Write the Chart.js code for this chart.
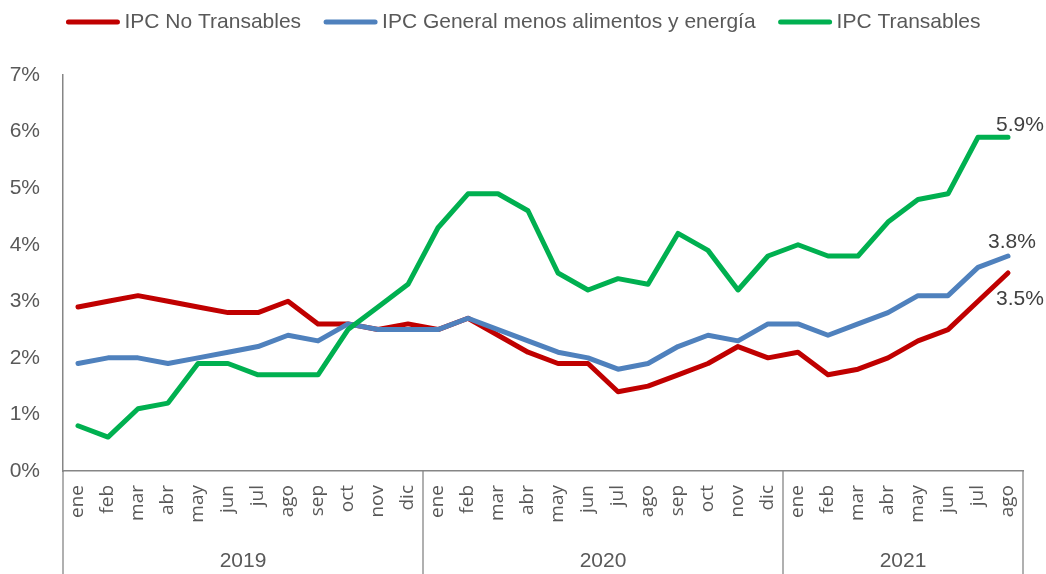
<!DOCTYPE html>
<html>
<head>
<meta charset="utf-8">
<script src="https://cdn.jsdelivr.net/npm/chart.js@4"></script>
<style>
  html, body { margin: 0; padding: 0; background: #fff; }
  #wrap { width: 1046px; height: 574px; }
</style>
</head>
<body>
<div id="wrap"><canvas id="myChart" width="1046" height="574"></canvas></div>
<script>
// months and years of the x axis
var meses = ['ene', 'feb', 'mar', 'abr', 'may', 'jun', 'jul', 'ago', 'sep', 'oct', 'nov', 'dic',
             'ene', 'feb', 'mar', 'abr', 'may', 'jun', 'jul', 'ago', 'sep', 'oct', 'nov', 'dic',
             'ene', 'feb', 'mar', 'abr', 'may', 'jun', 'jul', 'ago'];
var anios = ['2019', '2020', '2021'];
var mesesPorAnio = [12, 12, 8];

// series (%)
var noTransables = [2.9, 3.0, 3.1, 3.0, 2.9, 2.8, 2.8, 3.0, 2.6, 2.6, 2.5, 2.6,
                    2.5, 2.7, 2.4, 2.1, 1.9, 1.9, 1.4, 1.5, 1.7, 1.9, 2.2, 2.0,
                    2.1, 1.7, 1.8, 2.0, 2.3, 2.5, 3.0, 3.5];
var generalSinAE = [1.9, 2.0, 2.0, 1.9, 2.0, 2.1, 2.2, 2.4, 2.3, 2.6, 2.5, 2.5,
                    2.5, 2.7, 2.5, 2.3, 2.1, 2.0, 1.8, 1.9, 2.2, 2.4, 2.3, 2.6,
                    2.6, 2.4, 2.6, 2.8, 3.1, 3.1, 3.6, 3.8];
var transables = [0.8, 0.6, 1.1, 1.2, 1.9, 1.9, 1.7, 1.7, 1.7, 2.5, 2.9, 3.3,
                  4.3, 4.9, 4.9, 4.6, 3.5, 3.2, 3.4, 3.3, 4.2, 3.9, 3.2, 3.8,
                  4.0, 3.8, 3.8, 4.4, 4.8, 4.9, 5.9, 5.9];

var gris = '#595959';
var ejeColor = '#868686';
var fuente = '"Liberation Sans", Arial, sans-serif';

// legend drawn at the top, centred
var leyenda = {
	id : 'leyenda',
	afterDraw : function(chart) {
		var ctx = chart.ctx;
		var ds = chart.data.datasets;
		ctx.save();
		ctx.font = '21px ' + fuente;
		var lineW = 55, gap = 4, sep = 22;
		var total = 0;
		ds.forEach(function(d, i) {
			total += lineW + gap + ctx.measureText(d.label).width + (i < ds.length - 1 ? sep : 0);
		});
		var x = (chart.width - total) / 2, y = 22;
		ds.forEach(function(d) {
			ctx.strokeStyle = d.borderColor;
			ctx.lineWidth = 5;
			ctx.lineCap = 'round';
			ctx.beginPath();
			ctx.moveTo(x + 3, y);
			ctx.lineTo(x + lineW - 3, y);
			ctx.stroke();
			x += lineW + gap;
			ctx.fillStyle = gris;
			ctx.textBaseline = 'middle';
			ctx.textAlign = 'left';
			ctx.fillText(d.label, x, y);
			x += ctx.measureText(d.label).width + sep;
		});
		ctx.restore();
	}
};

// year groups under the month labels
var grupos = {
	id : 'grupos',
	afterDraw : function(chart) {
		var ctx = chart.ctx, xs = chart.scales.x, area = chart.chartArea;
		ctx.save();
		ctx.strokeStyle = ejeColor;
		ctx.lineWidth = 1.3;
		ctx.font = '21px ' + fuente;
		ctx.fillStyle = gris;
		ctx.textAlign = 'center';
		ctx.textBaseline = 'middle';
		var inicio = 0;
		var bordes = [area.left];
		mesesPorAnio.forEach(function(n, k) {
			var fin = inicio + n;
			var xd = fin >= meses.length ? area.right
					: (xs.getPixelForValue(fin - 1) + xs.getPixelForValue(fin)) / 2;
			bordes.push(xd);
			ctx.fillText(anios[k], (bordes[k] + xd) / 2, 561);
			inicio = fin;
		});
		bordes.forEach(function(b) {
			ctx.beginPath();
			ctx.moveTo(b, area.bottom);
			ctx.lineTo(b, chart.height);
			ctx.stroke();
		});
		ctx.restore();
	}
};

// value labels for the last point of each line
var etiquetas = {
	id : 'etiquetas',
	afterDatasetsDraw : function(chart) {
		var ctx = chart.ctx;
		var desp = [[12, 26], [4, -14], [12, -12]]; // dx, dy per dataset
		ctx.save();
		ctx.font = '21px ' + fuente;
		ctx.fillStyle = '#404040';
		ctx.textAlign = 'center';
		ctx.textBaseline = 'middle';
		chart.data.datasets.forEach(function(d, i) {
			var meta = chart.getDatasetMeta(i);
			var p = meta.data[meta.data.length - 1];
			var v = d.data[d.data.length - 1];
			ctx.fillText(v.toFixed(1) + '%', p.x + desp[i][0], p.y + desp[i][1]);
		});
		ctx.restore();
	}
};

var ctx = document.getElementById('myChart').getContext('2d');
var chart = new Chart(ctx, {
	type : 'line',
	data : {
		labels : meses,
		datasets : [ {
			label : 'IPC No Transables',
			data : noTransables,
			borderColor : '#C00000',
			order : 3
		}, {
			label : 'IPC General menos alimentos y energía',
			data : generalSinAE,
			borderColor : '#4F81BD',
			order : 2
		}, {
			label : 'IPC Transables',
			data : transables,
			borderColor : '#00B050',
			order : 1
		} ]
	},
	options : {
		responsive : false,
		animation : false,
		devicePixelRatio : 1,
		layout : {
			padding : { top : 75, left : 0, right : 23, bottom : 0 }
		},
		elements : {
			line : { borderWidth : 5, tension : 0, borderJoinStyle : 'round', borderCapStyle : 'round', fill : false },
			point : { radius : 0, hoverRadius : 0 }
		},
		plugins : {
			legend : { display : false },
			tooltip : { enabled : false }
		},
		scales : {
			x : {
				offset : true,
				grid : { display : false, drawTicks : false },
				border : { display : true, color : ejeColor, width : 1.5 },
				ticks : {
					autoSkip : false,
					minRotation : 90,
					maxRotation : 90,
					padding : 14,
					color : gris,
					font : { family : '"Open Sans", sans-serif', size : 19 }
				},
				afterFit : function(s) { s.height = 103; }
			},
			y : {
				min : 0,
				max : 7,
				grid : { display : false, drawTicks : false },
				border : { display : true, color : ejeColor, width : 1.5 },
				ticks : {
					stepSize : 1,
					padding : 23,
					color : gris,
					font : { family : fuente, size : 21 },
					callback : function(v) { return v + '%'; }
				},
				afterFit : function(s) { s.width = 63; }
			}
		}
	},
	plugins : [ leyenda, grupos, etiquetas ]
});
</script>
</body>
</html>
